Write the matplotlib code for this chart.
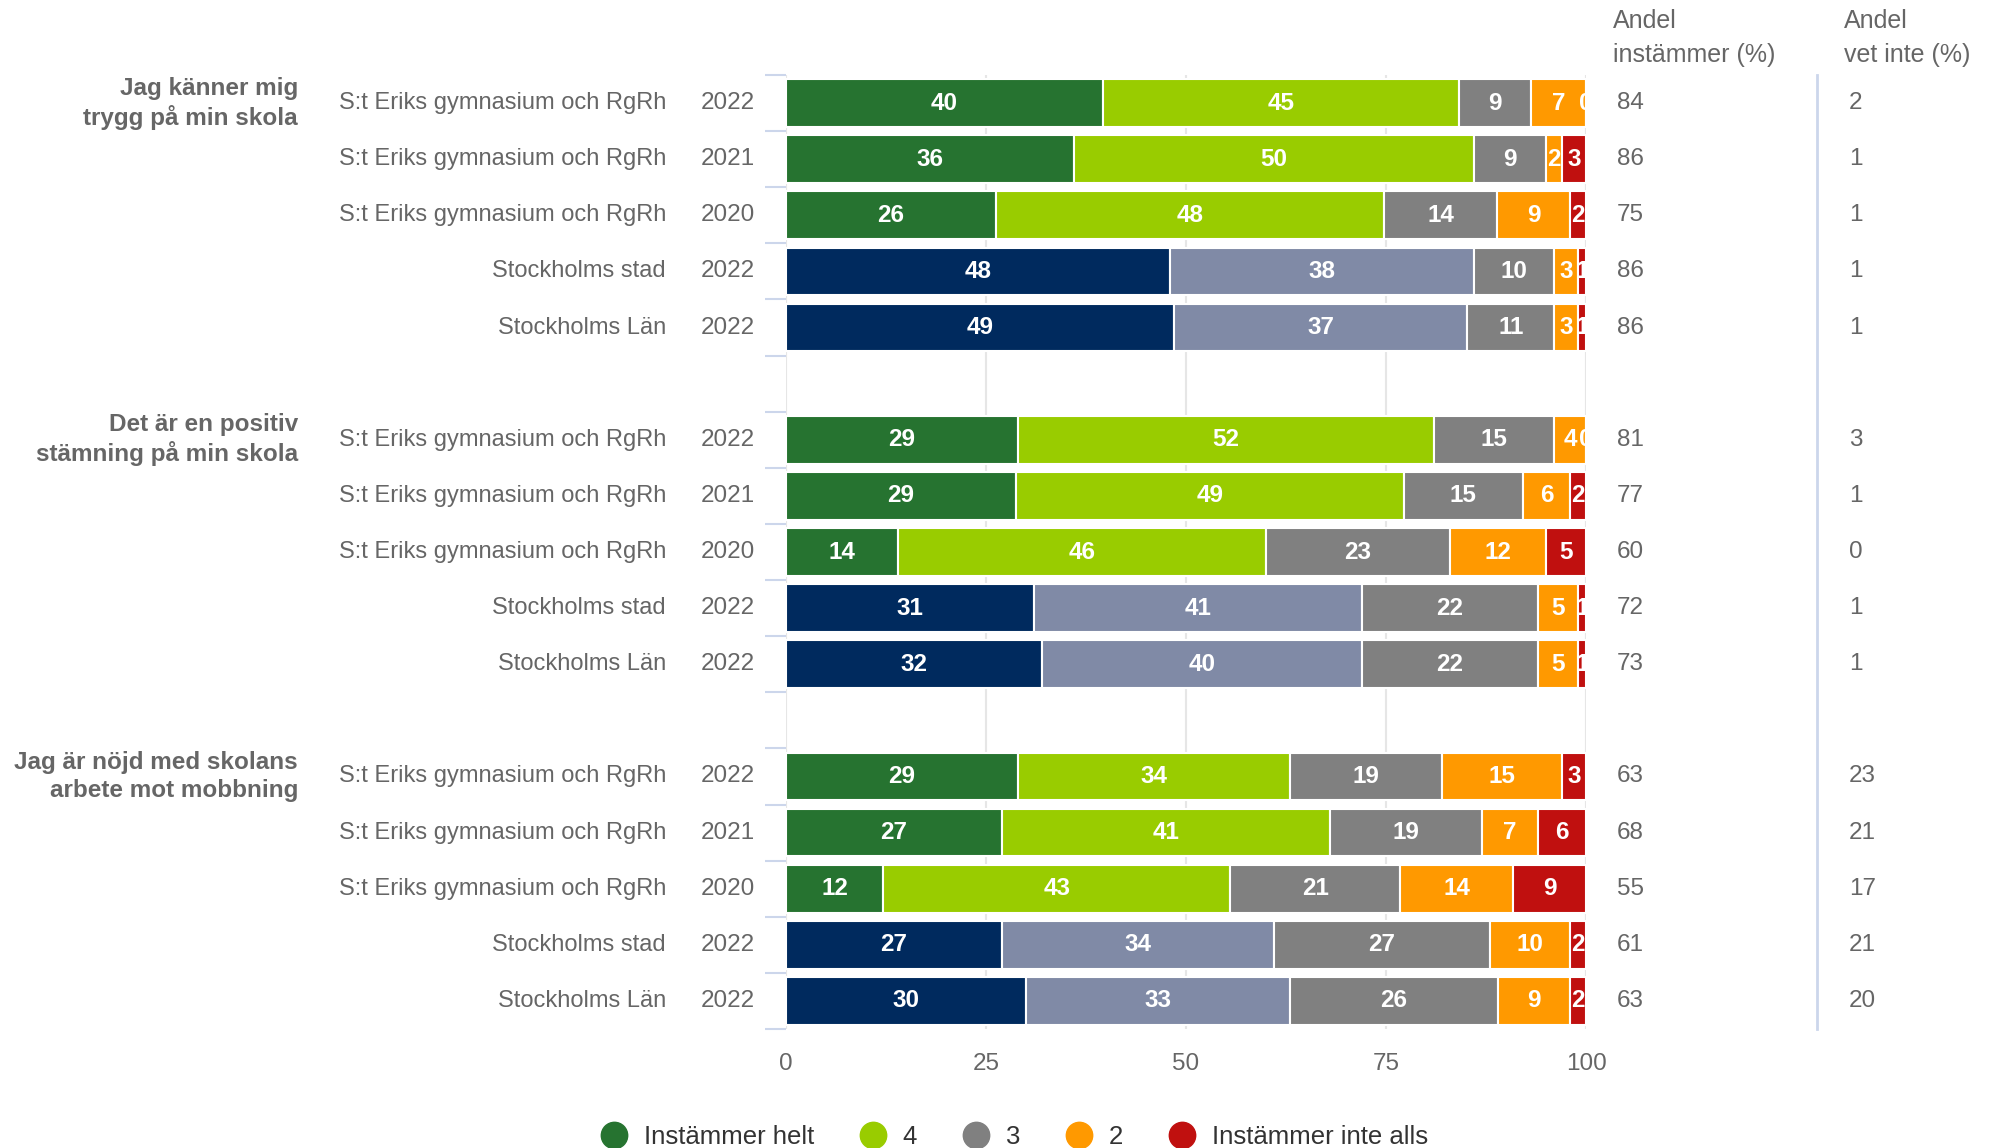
import numpy as np
import matplotlib.pyplot as plt
import matplotlib.transforms as mtransforms
from matplotlib.lines import Line2D

plt.rcParams['font.family'] = ['Liberation Sans', 'DejaVu Sans']

# frågor (grupper) och rader
fragor = ["Jag känner mig\ntrygg på min skola",
          "Det är en positiv\nstämning på min skola",
          "Jag är nöjd med skolans\narbete mot mobbning"]
enheter = ["S:t Eriks gymnasium och RgRh", "S:t Eriks gymnasium och RgRh",
           "S:t Eriks gymnasium och RgRh", "Stockholms stad", "Stockholms Län"]
ar = ["2022", "2021", "2020", "2022", "2022"]

serier = ["Instämmer helt", "4", "3", "2", "Instämmer inte alls"]

# värden per rad: helt, 4, 3, 2, inte alls
varden = [
    [40, 45, 9, 7, 0],
    [36, 50, 9, 2, 3],
    [26, 48, 14, 9, 2],
    [48, 38, 10, 3, 1],
    [49, 37, 11, 3, 1],
    [29, 52, 15, 4, 0],
    [29, 49, 15, 6, 2],
    [14, 46, 23, 12, 5],
    [31, 41, 22, 5, 1],
    [32, 40, 22, 5, 1],
    [29, 34, 19, 15, 3],
    [27, 41, 19, 7, 6],
    [12, 43, 21, 14, 9],
    [27, 34, 27, 10, 2],
    [30, 33, 26, 9, 2],
]
andel_instammer = [84, 86, 75, 86, 86, 81, 77, 60, 72, 73, 63, 68, 55, 61, 63]
andel_vet_inte = [2, 1, 1, 1, 1, 3, 1, 0, 1, 1, 23, 21, 17, 21, 20]

farger_skola = ["#267330", "#99cc00", "#808080", "#ff9900", "#c0100f"]
farger_sthlm = ["#002a5e", "#808aa6", "#808080", "#ff9900", "#c0100f"]
gra_text = "#666666"

fig = plt.figure(figsize=(19.92, 11.48), dpi=100)
W, H = 1992, 1148
ax = fig.add_axes([786 / W, 1 - 1029 / H, 800 / W, 954 / H])

# radpositioner: 5 rader per grupp, en tom rad emellan
ypos = []
for g in range(len(fragor)):
    for r in range(len(enheter)):
        ypos.append(g * 6 + r)

for i, rad in enumerate(varden):
    y = ypos[i]
    rad = np.array(rad, dtype=float)
    bredd = rad / rad.sum() * 100
    farger = farger_sthlm if enheter[i % 5].startswith("Stockholms") else farger_skola
    left = 0
    for j in range(len(rad)):
        ax.barh(y, bredd[j], left=left, height=0.85, color=farger[j],
                edgecolor="white", linewidth=1.5, zorder=3)
        ax.text(left + bredd[j] / 2, y, str(int(rad[j])), ha="center", va="center",
                color="white", fontsize=17.5, fontweight="bold", zorder=4, clip_on=True)
        left += bredd[j]

ax.set_xlim(0, 100)
ax.set_ylim(16.5, -0.5)
ax.set_xticks([0, 25, 50, 75, 100])
ax.tick_params(axis="x", length=0, pad=17, labelsize=17.5, labelcolor=gra_text)
ax.grid(axis="x", color="#e6e6e6", linewidth=1.5, zorder=0)
ax.set_yticks([])
ax.set_yticks(np.arange(-0.5, 17, 1), minor=True)
ax.tick_params(axis="y", which="minor", length=15, width=1.5, color="#ccd6eb")
for s in ax.spines.values():
    s.set_visible(False)

# etiketter till vänster och kolumner till höger
tr = mtransforms.blended_transform_factory(fig.transFigure, ax.transData)
for i in range(len(varden)):
    y = ypos[i]
    ax.text(666 / W, y, enheter[i % 5], transform=tr, ha="right", va="center",
            fontsize=17, color=gra_text)
    ax.text(755 / W, y, ar[i % 5], transform=tr, ha="right", va="center",
            fontsize=17.5, color=gra_text)
    ax.text(1617 / W, y, str(andel_instammer[i]), transform=tr, ha="left", va="center",
            fontsize=17.5, color=gra_text)
    ax.text(1849 / W, y, str(andel_vet_inte[i]), transform=tr, ha="left", va="center",
            fontsize=17.5, color=gra_text)

for g, fraga in enumerate(fragor):
    ax.text(298 / W, g * 6, fraga, transform=tr, ha="right", va="center",
            fontsize=17.5, fontweight="bold", color=gra_text, linespacing=1.25)

fig.text(1613 / W, 1 - 38 / H, "Andel\ninstämmer (%)", ha="left", va="center",
         fontsize=18, color=gra_text, linespacing=1.5)
fig.text(1844 / W, 1 - 38 / H, "Andel\nvet inte (%)", ha="left", va="center",
         fontsize=18, color=gra_text, linespacing=1.5)

fig.add_artist(Line2D([1817 / W, 1817 / W], [1 - 75 / H, 1 - 1029 / H],
                      transform=fig.transFigure, color="#ccd6eb", linewidth=2))

handles = [Line2D([], [], marker="o", linestyle="none", markersize=19,
                  markerfacecolor=c, markeredgecolor=c) for c in farger_skola]
fig.legend(handles, serier, loc="center", bbox_to_anchor=(1016 / W, 1 - 1137 / H),
           ncol=5, frameon=False, fontsize=18.5, labelcolor="#333333",
           handlelength=0.8, handletextpad=0.75, columnspacing=1.9)

fig.savefig("out.png", dpi=100)
